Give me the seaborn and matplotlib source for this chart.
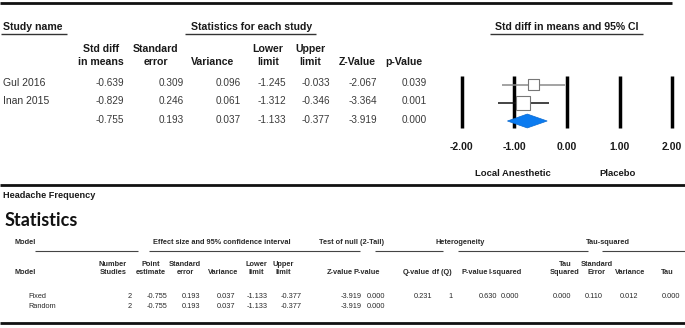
import matplotlib
matplotlib.use("Agg")
import matplotlib.pyplot as plt
import numpy as np
import pandas as pd
import seaborn as sns

# --- study level data (top panel) ---
study_names = ["Gul 2016", "Inan 2015", ""]
std_diff = [-0.639, -0.829, -0.755]
std_err = [0.309, 0.246, 0.193]
variance = [0.096, 0.061, 0.037]
lower_lim = [-1.245, -1.312, -1.133]
upper_lim = [-0.033, -0.346, -0.377]
z_value = [-2.067, -3.364, -3.919]
p_value = [0.039, 0.001, 0.000]
axis_ticks = [-2.0, -1.0, 0.0, 1.0, 2.0]

# --- model summary data (bottom panel) ---
models = ["Fixed", "Random"]
n_studies = [2, 2]
point_est = [-0.755, -0.755]
model_se = [0.193, 0.193]
model_var = [0.037, 0.037]
model_lower = [-1.133, -1.133]
model_upper = [-0.377, -0.377]
model_z = [-3.919, -3.919]
model_p = [0.000, 0.000]
q_value = 0.231
df_q = 1
het_p = 0.630
i_squared = 0.000
tau_squared = 0.000
tau_se = 0.110
tau_var = 0.012
tau = 0.000

sns.set_theme(style="white")
plt.rcParams["font.family"] = ["Liberation Sans", "DejaVu Sans"]
plt.rcParams["axes.unicode_minus"] = False
NARROW = ["Liberation Sans Narrow", "Liberation Sans", "DejaVu Sans"]

fig = plt.figure(figsize=(6.85, 3.28), dpi=100)
bg = fig.add_axes([0, 0, 1, 1])
bg.set_xlim(0, 685)
bg.set_ylim(328, 0)
bg.axis("off")


def txt(x, y, s, ha="left", size=7, weight="normal", family=None, color="#1a1a1a"):
    bg.text(x, y, s, ha=ha, va="center", fontsize=size, fontweight=weight,
            family=family if family else plt.rcParams["font.family"], color=color)


def rule(x0, x1, y, lw=1.0, color="#333333"):
    bg.plot([x0, x1], [y, y], color=color, lw=lw, solid_capstyle="butt")


# ---------- top panel ----------
hsize = 7.6
rule(0, 672, 3, lw=2.0, color="#111111")
txt(3, 27, "Study name", weight="bold", size=hsize)
rule(1, 67, 34, lw=1.0)
txt(252, 27, "Statistics for each study", ha="center", weight="bold", size=hsize)
rule(185, 316, 34, lw=1.0)
txt(567, 27, "Std diff in means and 95% CI", ha="center", weight="bold", size=hsize)
rule(490, 643, 34, lw=1.0)

headers = [("Std diff", "in means", 101), ("Standard", "error", 156), ("", "Variance", 213),
           ("Lower", "limit", 268), ("Upper", "limit", 310), ("", "Z-Value", 357),
           ("", "p-Value", 404)]
for h1, h2, x in headers:
    if h1:
        txt(x, 49, h1, ha="center", weight="bold", size=hsize)
    txt(x, 62, h2, ha="center", weight="bold", size=hsize)

row_y = [83, 101.5, 120]
cols = [(std_diff, 124), (std_err, 184), (variance, 241), (lower_lim, 286),
        (upper_lim, 330), (z_value, 377), (p_value, 427)]
for i, y in enumerate(row_y):
    txt(3, y, study_names[i], size=7.5, color="#333333")
    for vals, xr in cols:
        txt(xr, y, f"{vals[i]:.3f}", ha="right", size=7.2, color="#3a3a3a")

# forest axes: x px = 567 + 52.6 * value ; rows spaced 18.25 px starting at y px 84.5
px_per_unit = 52.6
x0_px = 567
ax_left, ax_right, ax_top, ax_bot = 440, 685, 70, 135
row0, row_step = 84.5, 18.25
ax = fig.add_axes([ax_left / 685, 1 - ax_bot / 328, (ax_right - ax_left) / 685,
                   (ax_bot - ax_top) / 328])
ax.set_xlim((ax_left - x0_px) / px_per_unit, (ax_right - x0_px) / px_per_unit)
ax.set_ylim((ax_bot - row0) / row_step, (ax_top - row0) / row_step)
ax.patch.set_alpha(0)
for s in ax.spines.values():
    s.set_visible(False)

ax.vlines(axis_ticks, (76 - row0) / row_step, (128 - row0) / row_step,
          colors="black", lw=2.5, zorder=1)

studies = pd.DataFrame({"est": std_diff[:2], "lo": lower_lim[:2], "hi": upper_lim[:2],
                        "row": [0, 1], "weight": [1 / v for v in variance[:2]]})
ax.hlines(studies["row"], studies["lo"], studies["hi"], colors=["#8a8a8a", "#111111"],
          lw=1.1, zorder=2)
sns.scatterplot(data=studies, x="est", y="row", size="weight", sizes=(68, 102),
                marker="s", color="white", edgecolor="#777777", linewidth=0.8,
                legend=False, ax=ax, zorder=3)

h = 0.38
ax.fill([lower_lim[2], std_diff[2], upper_lim[2], std_diff[2]],
        [2, 2 - h, 2, 2 + h], color="#0b7bf0", edgecolor="#0a6ad0", lw=0.5, zorder=3)

ax.set_xticks(axis_ticks)
ax.set_xticklabels([f"{t:.2f}" for t in axis_ticks], fontweight="bold", fontsize=7.5,
                   color="#1a1a1a")
ax.set_yticks([])
ax.set_xlabel("")
ax.set_ylabel("")
ax.tick_params(axis="x", length=0, pad=5)

txt(513, 174, "Local Anesthetic", ha="center", weight="bold", size=6.8)
txt(618, 174, "Placebo", ha="center", weight="bold", size=6.8)

# ---------- bottom panel ----------
rule(0, 685, 185, lw=2.0, color="#111111")
txt(3, 196, "Headache Frequency", weight="bold", size=6.6)
txt(5, 220, "Statistics", weight="bold", size=13, family=["Lato", "DejaVu Sans"],
    color="#111111")

small = 5.3
gray = "#2a2a2a"
txt(15, 243, "Model", weight="bold", size=small, family=NARROW, color=gray)
txt(222, 243, "Effect size and 95% confidence interval", ha="center", weight="bold",
    size=small, family=NARROW, color=gray)
txt(352, 243, "Test of null (2-Tail)", ha="center", weight="bold", size=small,
    family=NARROW, color=gray)
txt(460, 243, "Heterogeneity", ha="center", weight="bold", size=small, family=NARROW,
    color=gray)
txt(608, 243, "Tau-squared", ha="center", weight="bold", size=small, family=NARROW,
    color=gray)
for a, b in [(35, 138), (149, 360), (375, 443), (458, 588), (602, 685)]:
    rule(a, b, 251, lw=0.8, color="#444444")

sub_headers = [("Number", "Studies", 113), ("Point", "estimate", 151),
               ("Standard", "error", 185), ("", "Variance", 223), ("Lower", "limit", 256),
               ("Upper", "limit", 283), ("", "Z-value", 340), ("", "P-value", 367),
               ("", "Q-value", 416), ("", "df (Q)", 442), ("", "P-value", 475),
               ("", "I-squared", 505), ("Tau", "Squared", 565), ("Standard", "Error", 597),
               ("", "Variance", 630), ("", "Tau", 667)]
txt(15, 272, "Model", weight="bold", size=small, family=NARROW, color=gray)
for h1, h2, x in sub_headers:
    if h1:
        txt(x, 265, h1, ha="center", weight="bold", size=small, family=NARROW, color=gray)
    txt(x, 272, h2, ha="center", weight="bold", size=small, family=NARROW, color=gray)

model_y = [297, 306]
mcols = [(point_est, 167), (model_se, 200), (model_var, 235), (model_lower, 268),
         (model_upper, 302), (model_z, 362), (model_p, 385)]
for i, y in enumerate(model_y):
    txt(28, y, models[i], size=small, family=NARROW, color=gray)
    txt(132, y, str(n_studies[i]), ha="right", size=small, family=NARROW, color=gray)
    for vals, xr in mcols:
        txt(xr, y, f"{vals[i]:.3f}", ha="right", size=small, family=NARROW, color=gray)

het_cols = [(f"{q_value:.3f}", 432), (str(df_q), 453), (f"{het_p:.3f}", 497),
            (f"{i_squared:.3f}", 519), (f"{tau_squared:.3f}", 571), (f"{tau_se:.3f}", 603),
            (f"{tau_var:.3f}", 638), (f"{tau:.3f}", 680)]
for s, xr in het_cols:
    txt(xr, model_y[0], s, ha="right", size=small, family=NARROW, color=gray)

rule(0, 685, 323, lw=2.0, color="#111111")

fig.savefig("out.png", dpi=100)
